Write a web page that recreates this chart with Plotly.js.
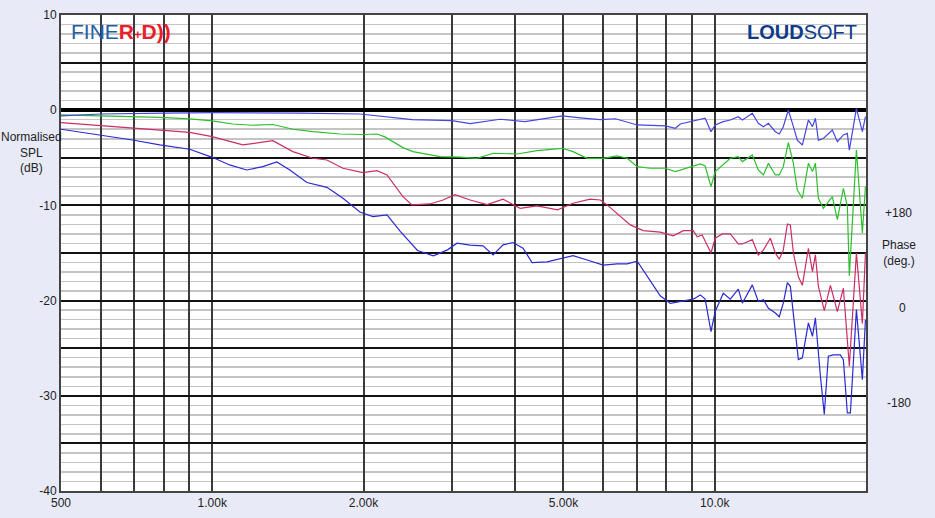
<!DOCTYPE html>
<html>
<head>
<meta charset="utf-8">
<script src="https://cdn.plot.ly/plotly-3.0.1.min.js"></script>
<style>
html,body{margin:0;padding:0;background:#e8eaf8;}
#chart{width:935px;height:518px;}
</style>
</head>
<body>
<div id="chart"></div>
<script>
// ---- Data (Hz, dB) ----
const freqA = [500,600,800,1000,1500,1970,2500,3000,3260,3740,4190,4970,5400,5920,6340,7010,7970,8350,8540,9060,9360,9570,9830,10020,10400,10740,11140,11350,11880,12210,12500,12790,13200,13440,13690,14010,14340,14600,14940,15360,15650,15860,16080,16450,17140,17540,18030,18360,18530,19140,19670,19950];
const splA  = [-0.6,-0.4,-0.3,-0.25,-0.3,-0.4,-1.0,-1.1,-1.4,-0.95,-1.2,-0.6,-0.8,-1.0,-0.9,-1.55,-1.65,-1.9,-1.45,-1.1,-0.96,-0.85,-2.26,-1.55,-1.2,-1.03,-0.68,-1.03,-0.33,-1.38,-1.73,-1.38,-2.26,-2.5,-1.73,0.02,-1.73,-3.15,-3.66,-1.03,-1.73,-0.85,-3.15,-2.97,-2.08,-3.3,-2.6,-2.43,-4.2,0.2,-2.26,-0.68];

const freqB = [500,597,786,902,1000,1099,1204,1320,1447,1586,1795,1994,2127,2206,2396,2508,2840,3112,3365,3622,4044,4430,4970,5224,5572,5998,6394,6694,7010,7438,7970,8350,8540,9060,9360,9570,9830,10020,10400,10740,11140,11350,11880,12210,12500,12790,13200,13440,13690,14010,14340,14600,14940,15360,15650,15860,16080,16450,17140,17540,18030,18360,18530,19140,19670,19950];
const splB  = [-0.5,-0.57,-0.75,-0.92,-1.13,-1.45,-1.58,-1.5,-2.0,-2.25,-2.5,-2.55,-2.5,-2.8,-3.93,-4.35,-4.87,-4.93,-5.05,-4.52,-4.6,-4.25,-4.0,-4.35,-5.05,-5.05,-4.8,-5.05,-5.93,-6.1,-6.1,-6.45,-6.28,-5.86,-5.65,-5.86,-8.03,-6.45,-5.75,-5.05,-4.88,-5.4,-4.7,-6.28,-6.8,-5.58,-6.8,-6.8,-5.93,-3.41,-5.58,-8.38,-9.25,-5.58,-6.45,-5.58,-9.25,-10.3,-9.08,-11.5,-8.2,-10.1,-17.4,-4.18,-12.9,-8.03];

const freqC = [500,597,694,786,902,1000,1150,1320,1447,1586,1691,1820,1994,2127,2227,2396,2497,2713,2879,3042,3260,3524,3791,4099,4430,4868,5224,5649,5920,6107,6790,7205,7790,8270,8660,9060,9230,9440,9830,10020,10350,10740,11140,11350,11880,12210,12500,12900,13200,13440,13690,13950,14140,14340,14670,14940,15360,15650,15860,16080,16520,16990,17540,18030,18530,19140,19670,19950];
const splC  = [-1.31,-1.63,-1.9,-2.08,-2.32,-2.78,-3.65,-3.2,-4.35,-5.05,-5.23,-6.1,-6.56,-6.35,-6.8,-9.08,-9.95,-9.85,-9.43,-8.87,-9.43,-9.92,-9.35,-10.3,-10.05,-10.47,-9.77,-9.35,-9.43,-9.95,-12.05,-12.65,-12.8,-13.2,-12.65,-12.65,-13.3,-13.1,-15.0,-13.45,-13.0,-13.0,-14.05,-14.05,-13.6,-15.2,-14.7,-13.45,-15.0,-15.65,-14.7,-11.95,-12.05,-15.0,-17.5,-18.4,-14.5,-16.95,-15.2,-18.5,-21.05,-18.4,-21.15,-18.7,-26.9,-15.0,-22.4,-15.0];

const freqD = [500,597,694,786,902,1000,1083,1171,1261,1344,1427,1543,1691,1820,1967,2088,2227,2369,2561,2755,2939,3070,3260,3458,3622,3791,3968,4154,4330,4638,4991,5224,5572,5998,6394,6694,7010,7438,7790,8155,8540,9060,9360,9570,9830,10020,10400,10740,11140,11350,11880,12210,12500,12790,13200,13440,13690,13950,14140,14340,14670,14940,15360,15650,15860,16230,16520,16830,17220,17780,18030,18360,18620,19140,19670,19950];
const splD  = [-2.0,-2.6,-3.13,-3.65,-4.1,-4.95,-5.75,-6.28,-5.93,-5.43,-6.28,-7.6,-8.1,-9.25,-10.7,-11.17,-11.0,-12.75,-14.74,-15.3,-14.67,-13.97,-14.18,-14.25,-15.2,-14.15,-13.9,-14.5,-16.0,-15.93,-15.55,-15.27,-15.73,-16.28,-16.14,-16.14,-15.86,-17.83,-19.5,-20.3,-20.1,-19.85,-19.4,-19.85,-23.25,-21.15,-19.22,-19.85,-18.8,-20.27,-18.35,-20.1,-19.9,-20.8,-21.3,-21.7,-20.27,-18.1,-18.5,-21.7,-26.2,-26.0,-22.35,-23.75,-21.8,-27.95,-31.95,-25.85,-25.7,-25.7,-26.2,-31.8,-31.8,-20.95,-28.3,-22.0];

const xTickVals = [500,600,700,800,900,1000,2000,3000,4000,5000,6000,7000,8000,9000,10000];
const xTickText = ['500','','','','','1.00k','2.00k','','','5.00k','','','','','10.0k'];
const yTickVals = [-40,-35,-30,-25,-20,-15,-10,-5,0,5,10];
const yTickText = ['-40','','-30','','-20','','-10','','0','','10'];

const colors = ['#4646e0','#2cbf2c','#cc2c68','#2a2ad2'];

function tr(x,y,c){
  return {x:x,y:y,type:'scatter',mode:'lines',line:{color:c,width:1.2},hoverinfo:'skip',showlegend:false};
}
const data = [tr(freqD,splD,colors[3]),tr(freqC,splC,colors[2]),tr(freqB,splB,colors[1]),tr(freqA,splA,colors[0])];

const PL = 61, PW = 805;
function px(p){return (p-PL)/PW;}

const layout = {
  width:935,height:518,
  margin:{l:61,r:69,t:15,b:27,pad:0},
  paper_bgcolor:'#e8eaf8',
  plot_bgcolor:'#ffffff',
  font:{family:'Liberation Sans, Arial, sans-serif',size:12,color:'#222'},
  xaxis:{type:'log',range:[Math.log10(500),Math.log10(20000)],
    tickmode:'array',tickvals:xTickVals,ticktext:xTickText,
    showgrid:true,gridcolor:'#3a3a3a',gridwidth:2,
    ticks:'',showline:true,mirror:true,linecolor:'#444',linewidth:2,
    zeroline:false,tickfont:{size:12,color:'#222'}},
  yaxis:{range:[-40,10],tickmode:'array',tickvals:yTickVals,ticktext:yTickText,
    showgrid:true,gridcolor:'#111',gridwidth:2,
    minor:{dtick:1,showgrid:true,gridcolor:'#c4c4c4',gridwidth:1.5,ticks:''},
    zeroline:true,zerolinecolor:'#000',zerolinewidth:4,
    ticks:'',showline:true,mirror:true,linecolor:'#444',linewidth:2,
    tickfont:{size:12,color:'#222'}},
  annotations:[
    {xref:'paper',yref:'paper',x:px(31),y:(491-152)/476,text:'Normalised<br>SPL<br>(dB)',showarrow:false,xanchor:'center',yanchor:'middle',font:{size:12,color:'#222'}},
    {xref:'paper',yref:'paper',x:px(899),y:(491-213)/476,text:'+180',showarrow:false,xanchor:'center',yanchor:'middle',font:{size:12,color:'#222'}},
    {xref:'paper',yref:'paper',x:px(899),y:(491-253)/476,text:'Phase<br>(deg.)',showarrow:false,xanchor:'center',yanchor:'middle',font:{size:12,color:'#222'}},
    {xref:'paper',yref:'paper',x:px(902),y:(491-308)/476,text:'0',showarrow:false,xanchor:'center',yanchor:'middle',font:{size:12,color:'#222'}},
    {xref:'paper',yref:'paper',x:px(899),y:(491-403)/476,text:'-180',showarrow:false,xanchor:'center',yanchor:'middle',font:{size:12,color:'#222'}},
    {xref:'paper',yref:'paper',x:px(69),y:(491-32)/476,xanchor:'left',yanchor:'middle',showarrow:false,
      text:"<span style='color:#1e5ea8'>FINE</span><b><span style='color:#ee1c2a'>R<span style='font-size:13px'>+</span>D))</span></b>",
      font:{size:21,family:'Liberation Sans, Arial, sans-serif'}},
    {xref:'paper',yref:'paper',x:px(859),y:(491-32)/476,xanchor:'right',yanchor:'middle',showarrow:false,
      text:"<b>LOUD</b>SOFT",font:{size:20,color:'#0e3a8a',family:'Liberation Sans, Arial, sans-serif'}}
  ]
};
Plotly.newPlot('chart',data,layout,{staticPlot:true,displayModeBar:false});
</script>
</body>
</html>
